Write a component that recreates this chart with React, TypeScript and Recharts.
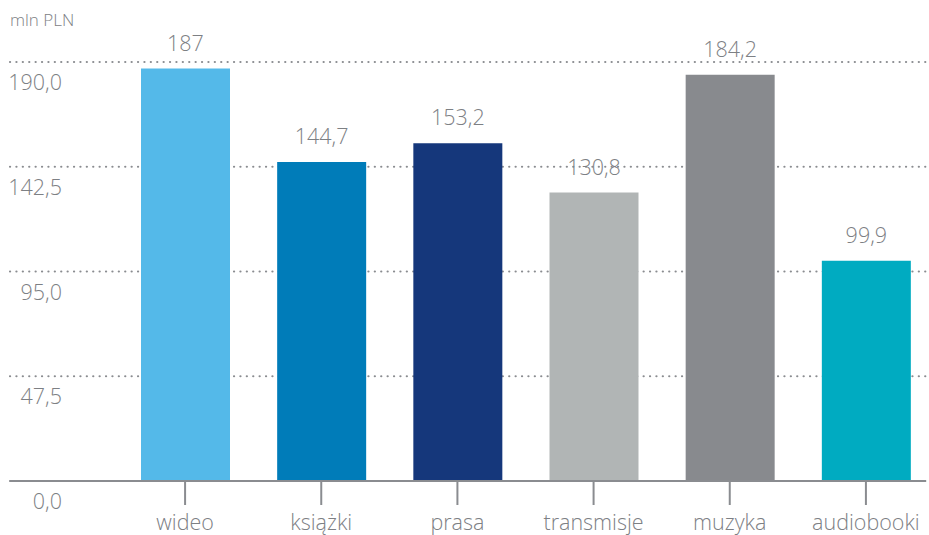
import { Bar, BarChart, CartesianGrid, Cell, LabelList, XAxis, YAxis } from 'recharts'

const categories = ['wideo', 'książki', 'prasa', 'transmisje', 'muzyka', 'audiobooki']
const values = [187, 144.7, 153.2, 130.8, 184.2, 99.9]
const colors = ['#54b9e9', '#007cb9', '#15377b', '#b1b5b5', '#888a8e', '#00abc1']
const yTicks = [0, 47.5, 95, 142.5, 190]

const data = categories.map((name, i) => ({ name, value: values[i] }))

const grey = '#7d8084'
const font = '"Open Sans", sans-serif'

const comma = (v: number, digits?: number) =>
  (digits === undefined ? String(v) : v.toFixed(digits)).replace('.', ',')

function YTick(props: any) {
  const { y, payload } = props
  return (
    <text x={62} y={y + 28} textAnchor="end" fill={grey} fontSize={21.5} fontWeight={300} fontFamily={font}>
      {comma(payload.value, 1)}
    </text>
  )
}

function ValueLabel(props: any) {
  const { x, y, width, value } = props
  return (
    <text
      x={x + width / 2}
      y={y - 18}
      textAnchor="middle"
      fill={grey}
      fontSize={21.5}
      fontWeight={300}
      fontFamily={font}
    >
      {comma(Number(value))}
    </text>
  )
}

export default function App() {
  return (
    <div style={{ position: 'absolute', left: 0, top: 0, width: 929, height: 535, overflow: 'hidden', background: '#fff' }}>
      <BarChart
        width={940}
        height={535}
        data={data}
        margin={{ top: 62, right: 14, left: 9, bottom: 0 }}
        style={{ fontFamily: font }}
      >
        <text x={10} y={26} fill={grey} fontSize={17} fontWeight={300} fontFamily={font}>
          mln PLN
        </text>
        <CartesianGrid
          vertical={false}
          stroke="#8a8c90"
          strokeWidth={2.2}
          strokeDasharray="0.1 6.3"
          strokeLinecap="round"
        />
        <XAxis
          dataKey="name"
          height={54}
          padding={{ left: 107, right: -8 }}
          axisLine={{ stroke: '#8a8c90', strokeWidth: 2 }}
          tickLine={{ stroke: '#8a8c90', strokeWidth: 2 }}
          tickSize={24}
          tickMargin={10}
          tick={{ fill: grey, fontSize: 21.5, fontWeight: 300, fontFamily: font }}
          interval={0}
        />
        <YAxis
          width={1}
          domain={[0, 190]}
          ticks={yTicks}
          axisLine={false}
          tickLine={false}
          tick={<YTick />}
        />
        <Bar dataKey="value" barSize={89} isAnimationActive={false}>
          {data.map((d, i) => (
            <Cell key={d.name} fill={colors[i]} />
          ))}
          <LabelList dataKey="value" content={<ValueLabel />} />
        </Bar>
      </BarChart>
    </div>
  )
}
